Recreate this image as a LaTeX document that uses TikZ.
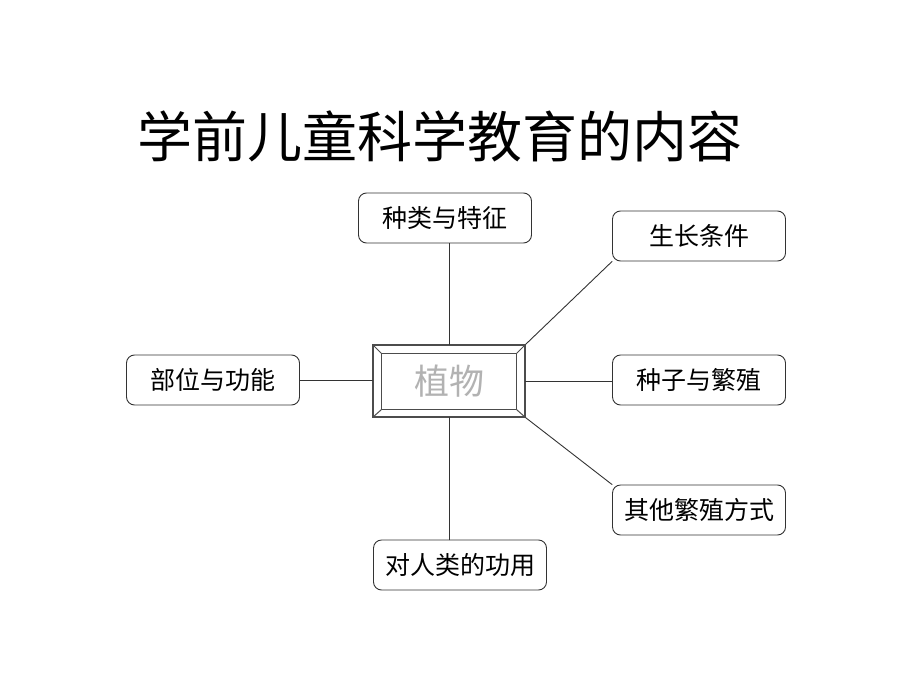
\documentclass[tikz,border=0pt]{standalone}
\usepackage{fontspec}
\newfontfamily\cjk{Noto Sans CJK SC}
\begin{document}
\begin{tikzpicture}[x=1pt, y=-1pt, font=\cjk, line join=round, line cap=round]
	\tikzset{
		topic/.style={draw=black!80, line width=0.9pt, rounded corners=8pt, minimum width=173pt, minimum height=50pt, inner sep=0pt, font=\cjk\fontsize{25}{25}\selectfont},
		link/.style={draw=black!80, line width=0.9pt},
		bevel/.style={draw=black!70, line width=1pt}
	}
	\useasboundingbox (0,0) rectangle (920,690);
	\node (title) at (440,136) {\fontsize{55}{55}\selectfont 学前儿童科学教育的内容};
	% centre
	\node[bevel, line width=1.2pt, minimum width=152pt, minimum height=72pt, inner sep=0pt, text=black!30, font=\cjk\fontsize{35}{35}\selectfont] (plant) at (449,381) {植物};
	\draw[bevel] ([shift={(9pt,-9pt)}]plant.north west) rectangle ([shift={(-9pt,8pt)}]plant.south east);
	\draw[bevel] (plant.north west) -- ++(9pt,-9pt);
	\draw[bevel] (plant.north east) -- ++(-9pt,-9pt);
	\draw[bevel] (plant.south west) -- ++(9pt,8pt);
	\draw[bevel] (plant.south east) -- ++(-9pt,8pt);
	% topics
	\node[topic] (kinds) at (445,218) {种类与特征};
	\node[topic] (grow) at (699,236) {生长条件};
	\node[topic] (seed) at (699,380) {种子与繁殖};
	\node[topic] (other) at (699,510) {其他繁殖方式};
	\node[topic] (uses) at (460,565) {对人类的功用};
	\node[topic] (parts) at (213,380) {部位与功能};
	% links
	\draw[link] (plant.north) -- (plant.north |- kinds.south);
	\draw[link] (plant.south) -- (plant.south |- uses.north);
	\draw[link] (parts.east) -- (parts.east -| plant.west);
	\draw[link] (plant.east) -- (plant.east -| seed.west);
	\draw[link] (plant.north east) -- (grow.south west);
	\draw[link] (plant.south east) -- (other.north west);
\end{tikzpicture}
\end{document}
